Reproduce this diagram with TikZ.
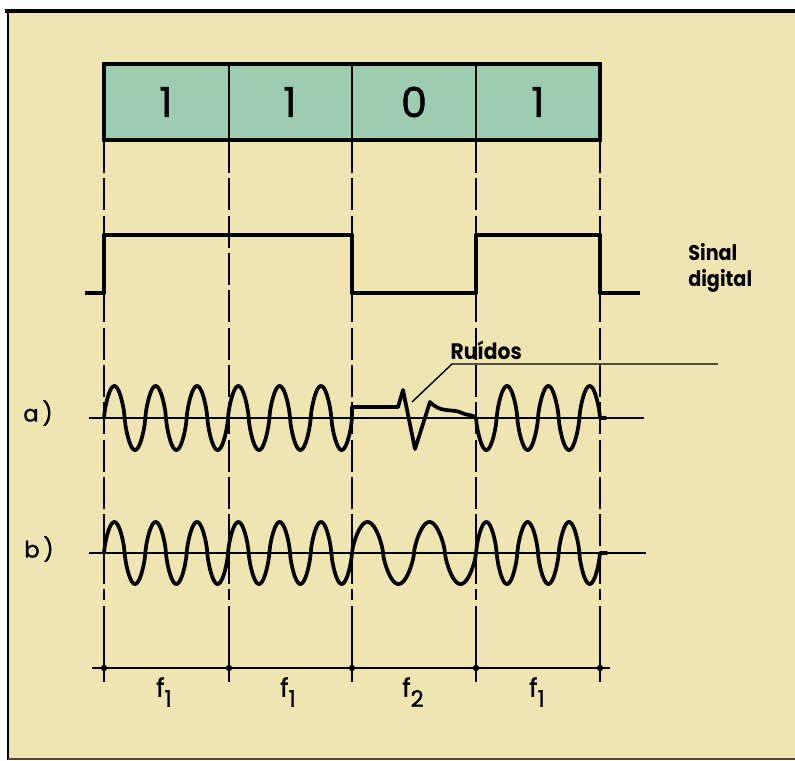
\documentclass[tikz,border=0pt]{standalone}
\usepackage{fontspec}
\newfontfamily\pop{Poppins}
\newfontfamily\popm{Poppins}[FakeBold=1.2]
\definecolor{paper}{HTML}{EEE5B2}
\definecolor{cellfill}{HTML}{9DCCB0}
\definecolor{edgebrown}{HTML}{5A4535}
\begin{document}
\begin{tikzpicture}[x=0.75pt,y=-0.75pt,
  wave/.style={line width=2.8pt, line join=round, line cap=round},
  sigline/.style={line width=3.2pt, line join=round},
  divider/.style={line width=0.9pt, dash pattern=on 24pt off 4pt},
  axisline/.style={line width=1pt},
  digit/.style={font=\popm\fontsize{31}{31}\selectfont},
  flabel/.style={font=\popm\fontsize{19}{19}\selectfont},
  tag/.style={font=\popm\fontsize{17}{17}\selectfont},
  boldlabel/.style={font=\pop\bfseries\fontsize{16}{20}\selectfont},
  declare function={sq(\t)=sin(\t)*pow(abs(sin(\t))+0.001,-0.3);}
]
\useasboundingbox (0,0) rectangle (795,760);
% page and frame
\fill[white] (0,0) rectangle (795,760);
\fill[paper] (8,11) rectangle (795,760);
\draw[line width=2.4pt] (5,11) -- (795,11);
\draw[line width=2pt] (8,11) -- (8,760);
\draw[edgebrown, line width=1.5pt] (8,759) -- (795,759);

% bit box
\fill[cellfill] (104,64) rectangle (600,140);
\foreach \x in {229,352,476} \draw[line width=1.2pt] (\x,64) -- (\x,140);
\draw[line width=3.5pt] (104,64) rectangle (600,140);
\node[digit] (d1) at (166,102) {1};
\node[digit] (d2) at (290,102) {1};
\node[digit] (d3) at (414,102) {0};
\node[digit] (d4) at (538,102) {1};

% dividers and time axis
\foreach \x in {104,229,352,476,600} {
  \draw[divider] (\x,141) -- (\x,600);
  \draw[axisline] (\x,606) -- (\x,682);
}
\draw[axisline] (92,668) -- (610,668);
\foreach \x in {104,229,352,476,600} \fill (\x,668) circle[radius=2.4pt];

% digital signal
\draw[sigline] (85,293) -- (104,293) -- (104,235) -- (352,235) -- (352,293)
  -- (476,293) -- (476,235) -- (600,235) -- (600,293) -- (640,293);
\node[boldlabel, align=left, anchor=west, inner sep=0pt] (sig) at (688,268)
  {\scalebox{0.9}[1]{Sinal}\\\scalebox{0.9}[1]{digital}};

% baselines
\draw[axisline] (89,418) -- (644,418);
\draw[axisline] (89,553) -- (646,553);

% a) signal with noise
\draw[wave] plot[domain=104:352, samples=300] (\x,{418-32*sq(8.70968*(\x-104))})
  -- (352,407) -- (398,407) -- (403,390) -- (415,449) -- (430,402)
  .. controls (436,408) and (440,409) .. (446,410)
  .. controls (452,411) and (456,410) .. (462,413)
  .. controls (468,416) and (472,414) .. (476,418)
  -- plot[domain=476:600, samples=150] (\x,{418+32*sq(8.70968*(\x-476))})
  -- (606,418);
\node[tag] (la) at (38,413) {a\,)};

% noise label
\coordinate (nz) at (412,402);
\coordinate (lk) at (452,364);
\coordinate (le) at (718,364);
\draw[line width=1.1pt] (nz) -- (lk) -- (le);
\node[boldlabel, anchor=south west, inner sep=1pt] (ru) at (449,361) {\scalebox{0.95}[1.05]{Ruídos}};

% b) signal
\draw[wave] plot[domain=104:352, samples=300] (\x,{553-31*sq(8.70968*(\x-104))})
  -- plot[domain=352:476, samples=150] (\x,{553-31*sq(5.80645*(\x-352))})
  -- plot[domain=476:600, samples=150] (\x,{553-31*sq(8.70968*(\x-476))})
  -- (607,553);
\node[tag] (lb) at (39,549) {b\,)};

% frequency labels
\node[flabel] (f1) at (164,692) {f\raisebox{-0.4em}{\fontsize{17}{17}\selectfont 1}};
\node[flabel] (f2) at (288,692) {f\raisebox{-0.4em}{\fontsize{17}{17}\selectfont 1}};
\node[flabel] (f3) at (413,692) {f\raisebox{-0.4em}{\fontsize{17}{17}\selectfont 2}};
\node[flabel] (f4) at (537,692) {f\raisebox{-0.4em}{\fontsize{17}{17}\selectfont 1}};
\end{tikzpicture}
\end{document}
